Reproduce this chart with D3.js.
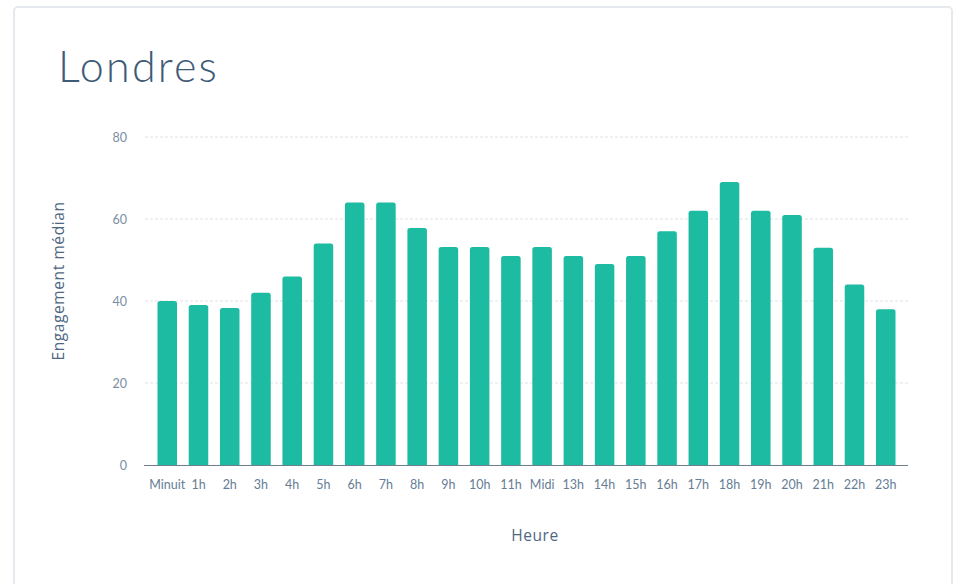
<!DOCTYPE html>
<html><head><meta charset="utf-8">
<script src="https://cdn.jsdelivr.net/npm/d3@7"></script>
<style>
html,body{margin:0;padding:0;background:#fff;}
svg{display:block;}
</style></head>
<body>
<svg id="chart" width="956" height="584"></svg>
<script>
const categories = ["Minuit","1h","2h","3h","4h","5h","6h","7h","8h","9h","10h","11h","Midi","13h","14h","15h","16h","17h","18h","19h","20h","21h","22h","23h"];
const values = [40,39,38.3,42,46,54,64,64,57.8,53.2,53.2,51,53.2,51,49,51,57,62,69,62,61,53,44,38];
const yTicks = [0,20,40,60,80];
const title = "Londres";
const yTitle = "Engagement médian";
const xTitle = "Heure";

(function(){
const svg = d3.select("#chart");
const font = "Lato, 'Open Sans', sans-serif";
const font2 = "'Open Sans', Lato, sans-serif";

// card
svg.append("rect").attr("x",14).attr("y",7).attr("width",938).attr("height",600)
  .attr("rx",4).attr("fill","#fff").attr("stroke","#e5e8ed").attr("stroke-width",2);

svg.append("text").attr("x",58).attr("y",82).text(title)
  .attr("font-family",font).attr("font-size",43).attr("font-weight",300)
  .attr("letter-spacing",2.2).attr("fill","#3e5a76");

const pLeft=145, pRight=908, pTop=137, pBottom=465;
const x = d3.scaleBand().domain(categories).range([pLeft,pRight]).paddingInner(0.375).paddingOuter(0.4);
const y = d3.scaleLinear().domain([0,80]).range([pBottom,pTop]);

// grid
svg.append("g").selectAll("line").data(yTicks.filter(d=>d>0)).join("line")
  .attr("x1",pLeft).attr("x2",pRight).attr("y1",d=>y(d)).attr("y2",d=>y(d))
  .attr("stroke","#dde1e6").attr("stroke-dasharray","3,2").attr("stroke-width",1);

// y axis labels
const yAxis = d3.axisLeft(y).tickValues(yTicks).tickSize(0).tickPadding(18);
const gy = svg.append("g").attr("transform",`translate(${pLeft},0)`).call(yAxis);
gy.select(".domain").remove();
gy.selectAll("text").attr("font-family",font).attr("font-size",12.5).attr("fill","#7a8ea3");

// bars
const bw = x.bandwidth();
svg.append("g").selectAll("path").data(values).join("path")
  .attr("d",(d,i)=>{
    const x0=x(categories[i]), y0=y(d), r=2.5;
    return `M${x0},${pBottom}V${y0+r}Q${x0},${y0} ${x0+r},${y0}H${x0+bw-r}Q${x0+bw},${y0} ${x0+bw},${y0+r}V${pBottom}Z`;
  })
  .attr("fill","#1dbba1");

// x axis
const xAxis = d3.axisBottom(x).tickSize(0).tickPadding(15);
const gx = svg.append("g").attr("transform",`translate(0,${pBottom})`).call(xAxis);
gx.select(".domain").attr("stroke","#6f7f8f").attr("stroke-width",1).attr("d",`M${pLeft-1},0.5H${pRight}`);
gx.selectAll("text").attr("font-family",font).attr("font-size",12.5).attr("fill","#657d95");

// axis titles
svg.append("text").attr("transform","translate(64,281) rotate(-90)").attr("text-anchor","middle")
  .text(yTitle).attr("font-family",font2).attr("font-size",15.5).attr("letter-spacing",0.6).attr("fill","#4f6882");
svg.append("text").attr("x",535).attr("y",541).attr("text-anchor","middle")
  .text(xTitle).attr("font-family",font2).attr("font-size",15.5).attr("letter-spacing",0.6).attr("fill","#4f6882");
})();
</script>
</body></html>
